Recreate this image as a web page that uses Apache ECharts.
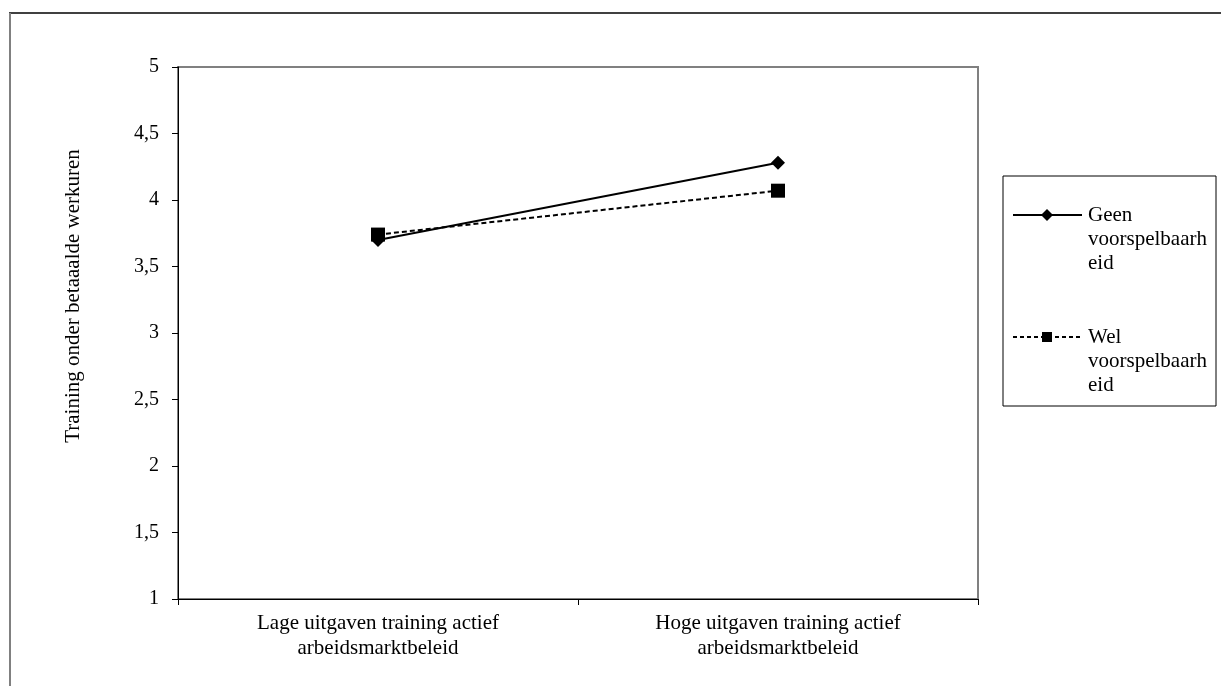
<!DOCTYPE html>
<html>
<head>
<meta charset="utf-8">
<script src="https://cdn.jsdelivr.net/npm/echarts@6/dist/echarts.min.js"></script>
<style>
html,body{margin:0;padding:0;background:#fff;}
#chart{width:1221px;height:686px;}
</style>
</head>
<body>
<div id="chart"></div>
<script>
var categories = ['Lage uitgaven training actief\narbeidsmarktbeleid', 'Hoge uitgaven training actief\narbeidsmarktbeleid'];
var seriesNames = ['Geen voorspelbaarheid', 'Wel voorspelbaarheid'];
var legendLabels = ['Geen\nvoorspelbaarh\neid', 'Wel\nvoorspelbaarh\neid'];
var geenValues = [3.70, 4.28];
var welValues = [3.74, 4.07];
var yAxisTitle = 'Training onder betaaalde werkuren';

var FONT = '"Liberation Serif", "Times New Roman", serif';

var chart = echarts.init(document.getElementById('chart'));

var legendX = 1003, legendY = 176, legendW = 213, legendH = 230;
var legendGraphics = [
  {type: 'rect', shape: {x: legendX, y: legendY, width: legendW, height: legendH},
   style: {fill: '#fff', stroke: '#000', lineWidth: 1}, z: 10}
];
var styles = [
  {dash: null, symbol: 'diamond'},
  {dash: [4, 3], symbol: 'square'}
];
for (var i = 0; i < legendLabels.length; i++) {
  var y0 = 215 + i * 122;
  legendGraphics.push({type: 'line', shape: {x1: 1013, y1: y0, x2: 1082, y2: y0},
    style: {stroke: '#000', lineWidth: 2, lineDash: styles[i].dash}, z: 11});
  if (styles[i].symbol === 'diamond') {
    legendGraphics.push({type: 'polygon', shape: {points: [[1047, y0 - 6], [1053, y0], [1047, y0 + 6], [1041, y0]]},
      style: {fill: '#000'}, z: 12});
  } else {
    legendGraphics.push({type: 'rect', shape: {x: 1042, y: y0 - 5, width: 10, height: 10},
      style: {fill: '#000'}, z: 12});
  }
  legendGraphics.push({type: 'text', x: 1088, y: y0 - 12,
    style: {text: legendLabels[i], font: '21px ' + FONT, fill: '#000', lineHeight: 24, verticalAlign: 'top'}, z: 12});
}

var frameGraphics = [
  {type: 'line', shape: {x1: 9, y1: 13, x2: 1221, y2: 13}, style: {stroke: '#000', lineWidth: 1.5}},
  {type: 'line', shape: {x1: 10, y1: 13, x2: 10, y2: 686}, style: {stroke: '#808080', lineWidth: 2}}
];

var option = {
  backgroundColor: '#fff',
  animation: false,
  textStyle: {fontFamily: FONT},
  grid: {left: 178, top: 67, width: 800, height: 532, show: true, borderColor: '#808080', borderWidth: 2, backgroundColor: 'transparent'},
  xAxis: {
    type: 'category',
    data: categories,
    boundaryGap: true,
    axisLine: {show: true, lineStyle: {color: '#000', width: 1}},
    axisTick: {show: true, length: 6, inside: false, lineStyle: {color: '#000'}},
    axisLabel: {color: '#000', fontSize: 21, fontFamily: FONT, margin: 12, lineHeight: 25, interval: 0},
    splitLine: {show: false}
  },
  yAxis: {
    type: 'value',
    min: 1, max: 5, interval: 0.5,
    name: yAxisTitle,
    nameLocation: 'middle',
    nameGap: 94,
    nameRotate: 90,
    nameTextStyle: {color: '#000', fontSize: 21, fontFamily: FONT, padding: [0, 0, 0, 74]},
    axisLine: {show: true, lineStyle: {color: '#000', width: 1}},
    axisTick: {show: true, length: 6, lineStyle: {color: '#000'}},
    axisLabel: {color: '#000', fontSize: 20, fontFamily: FONT, margin: 19,
      formatter: function (v) { return String(v).replace('.', ','); }},
    splitLine: {show: false}
  },
  series: [
    {
      name: seriesNames[0], type: 'line', data: geenValues,
      symbol: 'diamond', symbolSize: 14,
      lineStyle: {color: '#000', width: 2, type: 'solid'},
      itemStyle: {color: '#000'}, z: 2
    },
    {
      name: seriesNames[1], type: 'line', data: welValues,
      symbol: 'rect', symbolSize: 14,
      lineStyle: {color: '#000', width: 2, type: [5, 3]},
      itemStyle: {color: '#000'}, z: 3
    }
  ],
  graphic: frameGraphics.concat(legendGraphics)
};
chart.setOption(option);
</script>
</body>
</html>
